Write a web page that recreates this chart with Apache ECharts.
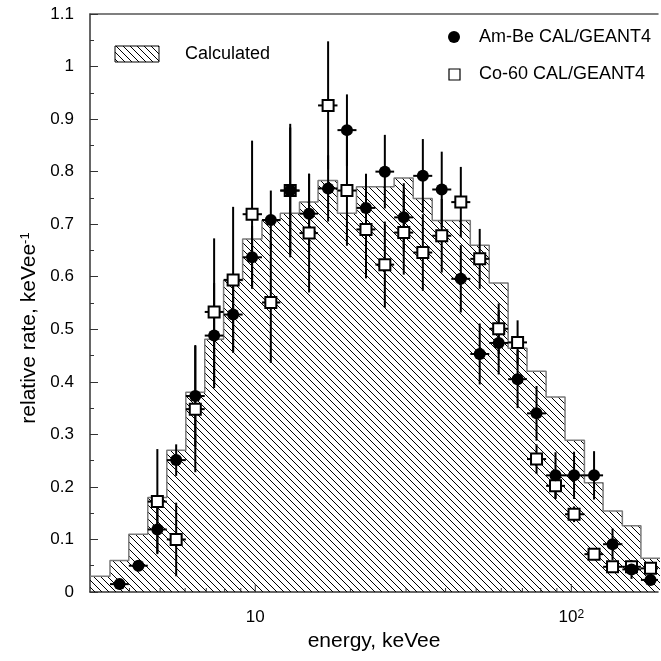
<!DOCTYPE html>
<html><head><meta charset="utf-8">
<script src="https://cdn.jsdelivr.net/npm/echarts@6/dist/echarts.min.js"></script>
<style>html,body{margin:0;padding:0;background:#fff}#c{width:661px;height:661px}</style>
</head><body><div id="c"></div>
<script>
// ---- data ----
const binEdges = [3.0, 3.47, 3.98, 4.57, 5.25, 6.03, 6.92, 7.94, 9.12, 10.5, 12.0, 13.8, 15.8, 18.2, 20.9, 24.0, 27.5, 31.6, 36.3, 41.7, 47.9, 55.0, 63.1, 72.4, 83.2, 95.5, 110, 126, 145, 166, 191];
const calcHeights = [0.03, 0.06, 0.11, 0.18, 0.27, 0.38, 0.481, 0.593, 0.672, 0.707, 0.721, 0.742, 0.783, 0.721, 0.771, 0.771, 0.788, 0.749, 0.707, 0.707, 0.66, 0.588, 0.464, 0.42, 0.371, 0.289, 0.208, 0.154, 0.126, 0.064];

// Am-Be: bins 1..29
const amBeBins = [1,2,3,4,5,6,7,8,9,10,11,12,13,14,15,16,17,18,19,20,21,22,23,24,25,26,27,28,29];
const amBeCenters = [3.72, 4.27, 4.90, 5.62, 6.46, 7.41, 8.51, 9.77, 11.2, 12.9, 14.8, 17.0, 19.5, 22.4, 25.7, 29.5, 33.9, 38.9, 44.7, 51.3, 58.9, 67.6, 77.6, 89.1, 102, 118, 135, 155, 178];
const amBeValues = [0.015, 0.050, 0.119, 0.251, 0.373, 0.488, 0.528, 0.637, 0.708, 0.764, 0.720, 0.768, 0.879, 0.731, 0.800, 0.713, 0.792, 0.766, 0.596, 0.453, 0.474, 0.405, 0.340, 0.222, 0.222, 0.222, 0.091, 0.043, 0.023];
const amBeErrors = [0.006, 0.007, 0.045, 0.03, 0.097, 0.10, 0.07, 0.06, 0.056, 0.127, 0.076, 0.063, 0.068, 0.065, 0.07, 0.065, 0.07, 0.072, 0.064, 0.058, 0.06, 0.055, 0.052, 0.044, 0.045, 0.046, 0.03, 0.018, 0.01];

// Co-60: bins 3..29
const co60Bins = [3,4,5,6,7,8,9,10,11,12,13,14,15,16,17,18,19,20,21,22,23,24,25,26,27,28,29];
const co60Centers = [4.90, 5.62, 6.46, 7.41, 8.51, 9.77, 11.2, 12.9, 14.8, 17.0, 19.5, 22.4, 25.7, 29.5, 33.9, 38.9, 44.7, 51.3, 58.9, 67.6, 77.6, 89.1, 102, 118, 135, 155, 178];
const co60Values = [0.172, 0.100, 0.348, 0.533, 0.594, 0.719, 0.551, 0.764, 0.683, 0.926, 0.764, 0.690, 0.623, 0.684, 0.646, 0.678, 0.742, 0.634, 0.501, 0.475, 0.253, 0.202, 0.148, 0.072, 0.048, 0.048, 0.045];
const co60Errors = [0.10, 0.07, 0.12, 0.14, 0.139, 0.14, 0.115, 0.12, 0.113, 0.122, 0.105, 0.093, 0.082, 0.08, 0.073, 0.07, 0.067, 0.057, 0.048, 0.042, 0.028, 0.025, 0.015, 0.01, 0.01, 0.01, 0.01];

const xMajorTicks = [10, 100];
const xMinorTicks = [4, 5, 6, 7, 8, 9, 20, 30, 40, 50, 60, 70, 80, 90];
// -------------------------------------

const FONT = "'Liberation Sans', Arial, Helvetica, sans-serif";

function makeHatch() {
  const c = document.createElement('canvas');
  c.width = 7; c.height = 7;
  const g = c.getContext('2d');
  g.strokeStyle = '#000'; g.lineWidth = 1;
  g.beginPath();
  g.moveTo(-1, -1); g.lineTo(8, 8);
  g.moveTo(6, -1); g.lineTo(15, 8);
  g.moveTo(-8, -1); g.lineTo(1, 8);
  g.stroke();
  return c;
}
const hatch = makeHatch();
const hatchPattern = { image: hatch, repeat: 'repeat' };

const histData = binEdges.map((e, i) => [e, calcHeights[Math.min(i, calcHeights.length - 1)]]);
const amBeErr = amBeCenters.map((c, i) => [c, amBeValues[i], amBeErrors[i], binEdges[amBeBins[i]], binEdges[amBeBins[i] + 1]]);
const co60Err = co60Centers.map((c, i) => [c, co60Values[i], co60Errors[i], binEdges[co60Bins[i]], binEdges[co60Bins[i] + 1]]);

function errRender(params, api) {
  const x = api.value(0), y = api.value(1), e = api.value(2), lo = api.value(3), hi = api.value(4);
  const p = api.coord([x, y]);
  const t = api.coord([x, y + e]);
  const b = api.coord([x, Math.max(0, y - e)]);
  const l = api.coord([lo, y]);
  const r = api.coord([hi, y]);
  return {
    type: 'group',
    children: [
      { type: 'line', shape: { x1: p[0], y1: t[1], x2: p[0], y2: b[1] }, style: { stroke: '#000', lineWidth: 2 } },
      { type: 'line', shape: { x1: l[0], y1: p[1], x2: r[0], y2: p[1] }, style: { stroke: '#000', lineWidth: 2 } }
    ]
  };
}

const tickData = xMajorTicks.map(v => [v, 8]).concat(xMinorTicks.map(v => [v, 4]));
function tickRender(params, api) {
  const p = api.coord([api.value(0), 0]);
  const len = api.value(1);
  return { type: 'line', shape: { x1: p[0], y1: p[1], x2: p[0], y2: p[1] - len }, style: { stroke: '#333', lineWidth: 1 } };
}

const chart = echarts.init(document.getElementById('c'), null, { renderer: 'canvas' });
chart.setOption({
  animation: false,
  backgroundColor: '#fff',
  textStyle: { fontFamily: FONT },
  grid: { left: 90, right: 0, top: 14, bottom: 69, containLabel: false },
  xAxis: [
    {
      type: 'log', logBase: 10, min: 3, max: 188, position: 'bottom',
      axisLine: { lineStyle: { color: '#333', width: 1.5 } },
      axisTick: { show: false },
      splitLine: { show: false },
      minorTick: { show: false },
      axisLabel: {
        color: '#000', fontSize: 17, fontFamily: FONT, margin: 17,
        formatter: function (v) {
          if (Math.abs(v - 10) < 1e-6) return '10';
          if (Math.abs(v - 100) < 1e-6) return '10{sup|2}';
          return '';
        },
        rich: { sup: { fontSize: 12, verticalAlign: 'top', lineHeight: 10, fontFamily: FONT, color: '#000' } }
      },
      name: 'energy, keVee', nameLocation: 'middle', nameGap: 36,
      nameTextStyle: { color: '#000', fontSize: 21, fontFamily: FONT }
    },
    {
      type: 'log', logBase: 10, min: 3, max: 188, position: 'top',
      axisLine: { show: true, lineStyle: { color: '#555', width: 1.5 } },
      axisTick: { show: false }, axisLabel: { show: false }, splitLine: { show: false }
    }
  ],
  yAxis: {
    type: 'value', min: 0, max: 1.1, interval: 0.1,
    axisLine: { show: true, lineStyle: { color: '#333', width: 1.5 } },
    axisTick: { show: true, inside: true, length: 8, lineStyle: { color: '#333', width: 1 } },
    minorTick: { show: true, splitNumber: 2, length: 4, lineStyle: { color: '#333', width: 1 } },
    splitLine: { show: false },
    axisLabel: {
      color: '#000', fontSize: 17, fontFamily: FONT, margin: 16,
      formatter: v => String(Math.round(v * 10) / 10)
    },
    name: 'relative rate, keVee{sup|-1}', nameLocation: 'middle', nameGap: 50, nameRotate: 90,
    nameTextStyle: {
      color: '#000', fontSize: 21, fontFamily: FONT, padding: [0, 50, 0, 0],
      rich: { sup: { fontSize: 13, verticalAlign: 'top', lineHeight: 10, fontFamily: FONT, color: '#000' } }
    }
  },
  series: [
    {
      name: 'Calculated', type: 'line', step: 'end', data: histData, symbol: 'none',
      xAxisIndex: 0, z: 1,
      lineStyle: { color: '#7a7a7a', width: 1.5 },
      areaStyle: { color: hatchPattern, opacity: 1 }
    },
    { type: 'custom', xAxisIndex: 0, renderItem: tickRender, data: tickData, z: 5, silent: true, clip: false },
    { type: 'custom', xAxisIndex: 0, renderItem: errRender, data: co60Err, z: 2, encode: { x: 0, y: 1 }, clip: true },
    { type: 'custom', xAxisIndex: 0, renderItem: errRender, data: amBeErr, z: 2, encode: { x: 0, y: 1 }, clip: true },
    {
      name: 'Co-60 CAL/GEANT4', type: 'scatter', xAxisIndex: 0, z: 3, symbol: 'rect', symbolSize: 11,
      data: co60Centers.map((c, i) => [c, co60Values[i]]),
      itemStyle: { color: '#fff', borderColor: '#000', borderWidth: 2, opacity: 1 }
    },
    {
      name: 'Am-Be CAL/GEANT4', type: 'scatter', xAxisIndex: 0, z: 4, symbol: 'circle', symbolSize: 12,
      data: amBeCenters.map((c, i) => [c, amBeValues[i]]),
      itemStyle: { color: '#000', opacity: 1 }
    }
  ],
  graphic: [
    { type: 'rect', shape: { x: 115, y: 46, width: 44, height: 16 }, style: { fill: hatchPattern, stroke: '#000', lineWidth: 1 }, z: 10 },
    { type: 'text', x: 185, y: 54, style: { text: 'Calculated', fontSize: 18, fontFamily: FONT, fill: '#000', verticalAlign: 'middle' }, z: 10 },
    { type: 'circle', shape: { cx: 454, cy: 37, r: 6 }, style: { fill: '#000' }, z: 10 },
    { type: 'rect', shape: { x: 449, y: 69, width: 11, height: 11 }, style: { fill: '#fff', stroke: '#000', lineWidth: 1.2 }, z: 10 },
    { type: 'text', x: 479, y: 37, style: { text: 'Am-Be CAL/GEANT4', fontSize: 18, fontFamily: FONT, fill: '#000', verticalAlign: 'middle' }, z: 10 },
    { type: 'text', x: 479, y: 74, style: { text: 'Co-60 CAL/GEANT4', fontSize: 18, fontFamily: FONT, fill: '#000', verticalAlign: 'middle' }, z: 10 }
  ]
});
</script>
</body></html>
